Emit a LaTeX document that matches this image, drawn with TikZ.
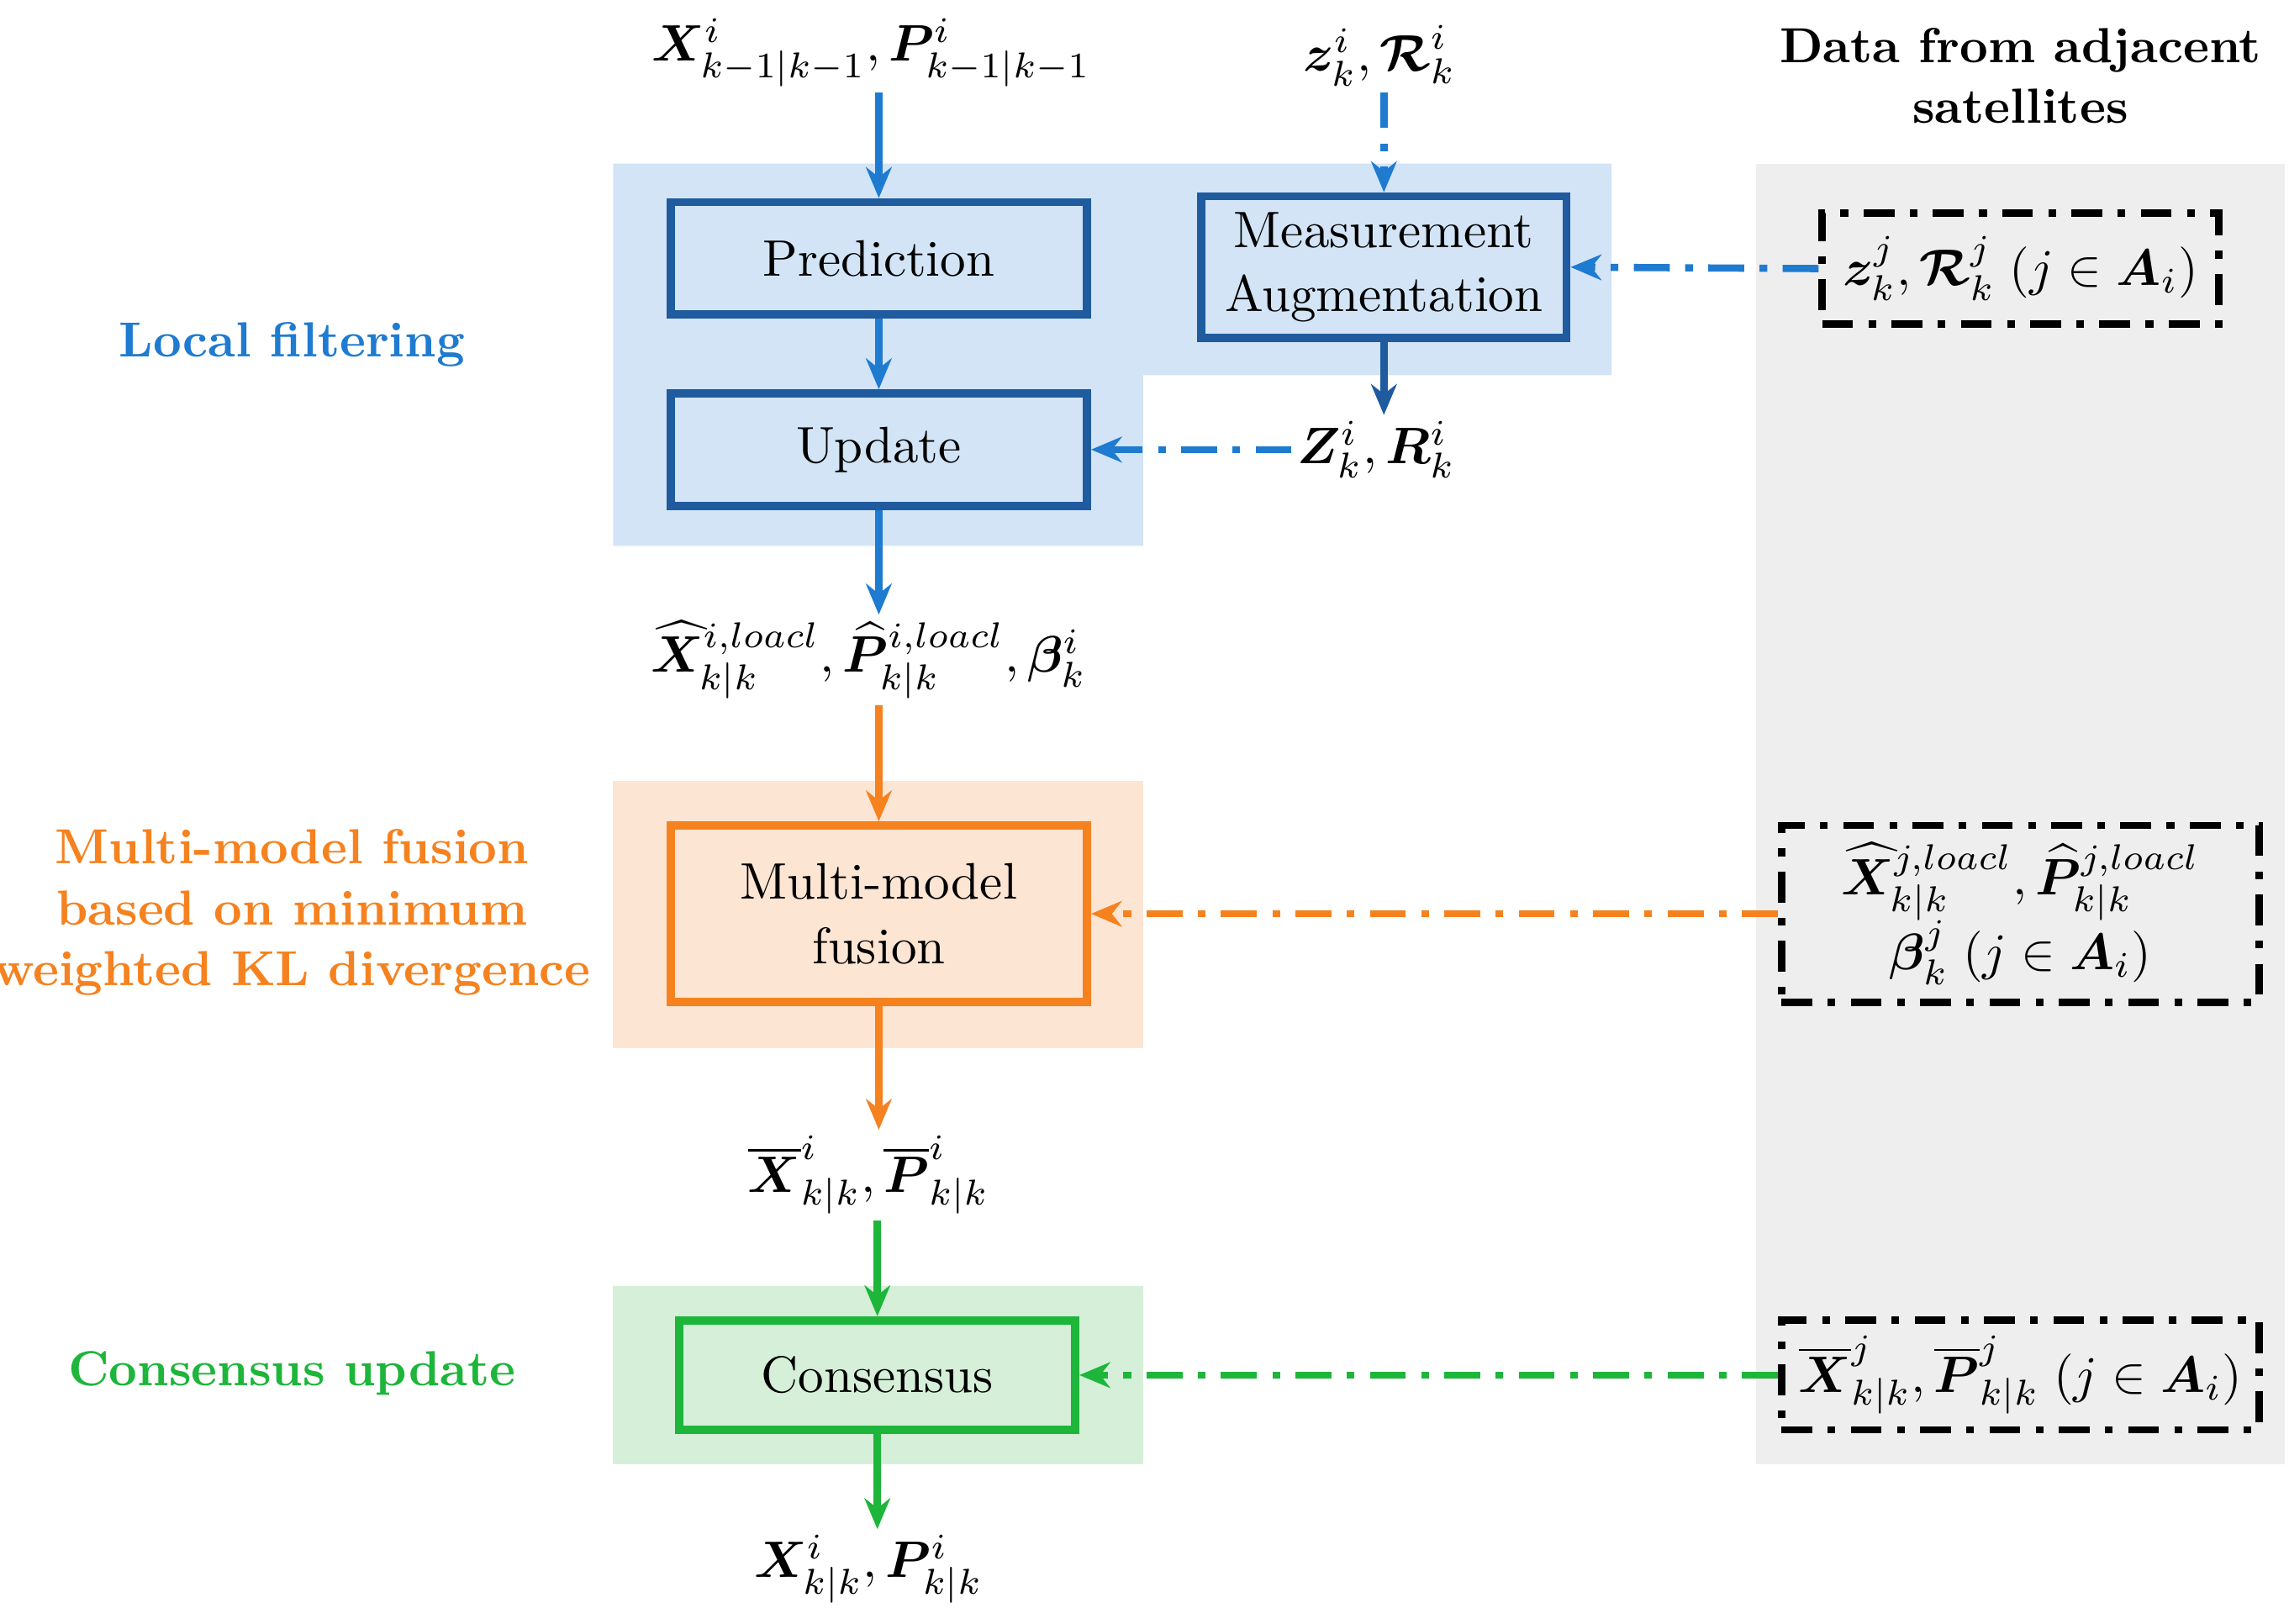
\documentclass[tikz,border=0pt]{standalone}
\usepackage{amsmath,amssymb,bm}
\usetikzlibrary{arrows.meta}
\definecolor{lb}{HTML}{1E7BD0}
\definecolor{db}{HTML}{1F5B9E}
\definecolor{bgb}{HTML}{D2E4F6}
\definecolor{org}{HTML}{F5821F}
\definecolor{bgo}{HTML}{FDE5D3}
\definecolor{grn}{HTML}{1DB53A}
\definecolor{bgg}{HTML}{D5EFD8}
\definecolor{bgr}{HTML}{EEEEEE}
\begin{document}
\begin{tikzpicture}[x=0.01cm,y=-0.01cm,
  box/.style={draw,line width=1.6pt,inner sep=0pt,align=center,font=\fontsize{10}{12.5}\selectfont},
  lab/.style={inner sep=1pt,font=\normalsize},
  ext/.style={draw=black,line width=1.4pt,dash pattern=on 6pt off 3pt on 1.5pt off 3pt,inner sep=0pt,align=center,font=\normalsize},
  arr/.style={line width=1.4pt,-{Stealth[length=6pt,width=5pt]}},
  dd/.style={arr,dash pattern=on 7pt off 3pt on 1.5pt off 3pt},
  side/.style={font=\bfseries\fontsize{9.6}{11.8}\selectfont,align=center}]
\useasboundingbox (0,0) rectangle (1568,1112);
% backgrounds
\fill[bgb] (420,112) -- (1104,112) -- (1104,257) -- (783,257) -- (783,374) -- (420,374) -- cycle;
\fill[bgo] (420,535) rectangle (783,718);
\fill[bgg] (420,881) rectangle (783,1003);
\fill[bgr] (1203,112) rectangle (1565,1003);
% boxes
\node[box,draw=db,fill=bgb,text width=2.85cm,minimum height=0.77cm] (pred) at (602,177) {Prediction};
\node[box,draw=db,fill=bgb,text width=2.5cm,minimum height=0.97cm] (meas) at (948,183) {Measurement\\Augmentation};
\node[box,draw=db,fill=bgb,text width=2.85cm,minimum height=0.77cm] (upd) at (602,308) {Update};
\node[box,draw=org,fill=bgo,text width=2.85cm,minimum height=1.21cm] (fus) at (602,626) {Multi-model\\fusion};
\node[box,draw=grn,fill=bgg,text width=2.71cm,minimum height=0.75cm] (cons) at (601,942) {Consensus};
% labels
\node[lab] (x0) at (597,36) {$\bm{X}^i_{k-1|k-1},\bm{P}^i_{k-1|k-1}$};
\node[lab] (z0) at (945,38) {$\bm{z}^i_k,\bm{\mathcal{R}}^i_k$};
\node[lab] (Z) at (943,308) {$\bm{Z}^i_k,\bm{R}^i_k$};
\node[lab] (xl) at (595,452) {$\widehat{\bm{X}}^{i,loacl}_{k|k},\widehat{\bm{P}}^{i,loacl}_{k|k},\bm{\beta}^i_k$};
\node[lab] (xb) at (595,805) {$\overline{\bm{X}}^i_{k|k},\overline{\bm{P}}^i_{k|k}$};
\node[lab] (xf) at (595,1075) {$\bm{X}^i_{k|k},\bm{P}^i_{k|k}$};
\node[side] (dt) at (1384,52) {Data from adjacent\\satellites};
\node[ext,inner xsep=4pt,minimum width=2.47cm,minimum height=0.76cm] (e1) at (1384,184) {$\bm{z}^j_k,\bm{\mathcal{R}}^j_k\;(j\in\bm{A}_i)$};
\node[ext,minimum width=3.27cm,minimum height=1.21cm] (e2) at (1384,626) {$\widehat{\bm{X}}^{j,loacl}_{k|k},\widehat{\bm{P}}^{j,loacl}_{k|k}$\\[-1pt]$\bm{\beta}^j_k\;(j\in\bm{A}_i)$};
\node[ext,minimum width=3.27cm,minimum height=0.75cm] (e3) at (1384,942) {$\overline{\bm{X}}^j_{k|k},\overline{\bm{P}}^j_{k|k}\;(j\in\bm{A}_i)$};
\node[side,text=lb] (s1) at (200,236) {Local filtering};
\node[side,text=org] (s2) at (200,625) {Multi-model fusion\\based on minimum\\weighted KL divergence};
\node[side,text=grn] (s3) at (200,941) {Consensus update};
% arrows
\draw[arr,lb] (x0.south -| pred.north) -- (pred.north);
\draw[dd,lb] (z0.south -| meas.north) -- (meas.north);
\draw[arr,lb] (pred) -- (upd);
\draw[arr,db] (meas.south) -- (Z.north -| meas.south);
\draw[dd,lb] (Z.west) -- (upd.east);
\draw[dd,lb] (e1.west) -- (meas.east);
\draw[arr,lb] (upd.south) -- (xl.north -| upd.south);
\draw[arr,org] (xl.south -| fus.north) -- (fus.north);
\draw[dd,org] (e2.west) -- (fus.east);
\draw[arr,org] (fus.south) -- (xb.north -| fus.south);
\draw[arr,grn] (xb.south -| cons.north) -- (cons.north);
\draw[dd,grn] (e3.west) -- (cons.east);
\draw[arr,grn] (cons.south) -- (xf.north -| cons.south);
\end{tikzpicture}
\end{document}
